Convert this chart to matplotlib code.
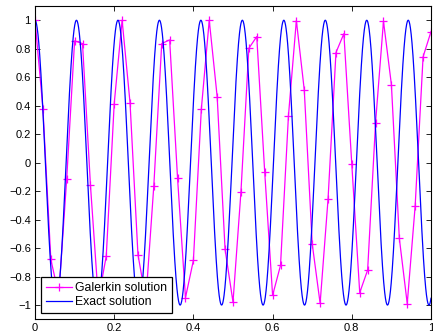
import numpy as np
import matplotlib
matplotlib.use("Agg")
import matplotlib.pyplot as plt
from matplotlib.ticker import FuncFormatter

# Galerkin solution nodes (x = 0, 0.02, ..., 1.0) and values
galerkin_x = [0.00, 0.02, 0.04, 0.06, 0.08, 0.10, 0.12, 0.14, 0.16, 0.18,
              0.20, 0.22, 0.24, 0.26, 0.28, 0.30, 0.32, 0.34, 0.36, 0.38,
              0.40, 0.42, 0.44, 0.46, 0.48, 0.50, 0.52, 0.54, 0.56, 0.58,
              0.60, 0.62, 0.64, 0.66, 0.68, 0.70, 0.72, 0.74, 0.76, 0.78,
              0.80, 0.82, 0.84, 0.86, 0.88, 0.90, 0.92, 0.94, 0.96, 0.98, 1.00]
galerkin_y = [1.000, 0.380, -0.680, -0.930, -0.117, 0.855, 0.836, -0.157, -0.960, -0.655,
              0.414, 1.000, 0.420, -0.646, -0.960, -0.164, 0.836, 0.862, -0.110, -0.948,
              -0.686, 0.375, 1.000, 0.464, -0.609, -0.979, -0.208, 0.803, 0.885, -0.063,
              -0.932, -0.721, 0.328, 0.998, 0.510, -0.569, -0.988, -0.257, 0.773, 0.906,
              -0.012, -0.913, -0.754, 0.281, 0.993, 0.548, -0.531, -0.990, -0.304, 0.743, 0.920]

# Exact solution u(x) = cos(omega * x)
omega = 60.0
exact_x = np.linspace(0.0, 1.0, 2001)
exact_y = np.cos(omega * exact_x)

x_ticks = [0, 0.2, 0.4, 0.6, 0.8, 1]
y_ticks = [-1, -0.8, -0.6, -0.4, -0.2, 0, 0.2, 0.4, 0.6, 0.8, 1]

plt.rcParams['font.family'] = ['Liberation Sans', 'DejaVu Sans']

fig = plt.figure(figsize=(4.33, 3.34), dpi=100)
ax = fig.add_axes([35/433, 1 - 319.3/334, (431 - 35)/433, (319.3 - 6)/334])

ax.plot(galerkin_x, galerkin_y, color=(1, 0, 1), marker='+', markersize=5.5,
        markeredgewidth=0.9, linewidth=0.9, label='Galerkin solution')
ax.plot(exact_x, exact_y, color=(0, 0, 1), linewidth=0.9, label='Exact solution')

ax.set_xlim(0, 1)
ax.set_ylim(-1.1, 1.1)
ax.set_xticks(x_ticks)
ax.set_yticks(y_ticks)

def fmt(v, pos):
    s = ('%g' % round(v, 2))
    return s.replace('-', '\u2212')

ax.xaxis.set_major_formatter(FuncFormatter(fmt))
ax.yaxis.set_major_formatter(FuncFormatter(fmt))
ax.tick_params(direction='in', top=True, right=True, length=3.5, width=0.6,
               labelsize=8, pad=3)
for s in ax.spines.values():
    s.set_linewidth(0.8)

leg = ax.legend(loc='lower left', prop={'size': 8.8}, frameon=True, fancybox=False,
                edgecolor='black', framealpha=1, borderpad=0.4, labelspacing=0.2,
                handlelength=2.1, handletextpad=0.3, borderaxespad=0.5)
leg.get_frame().set_linewidth(0.9)

fig.savefig('out.png', dpi=100)
